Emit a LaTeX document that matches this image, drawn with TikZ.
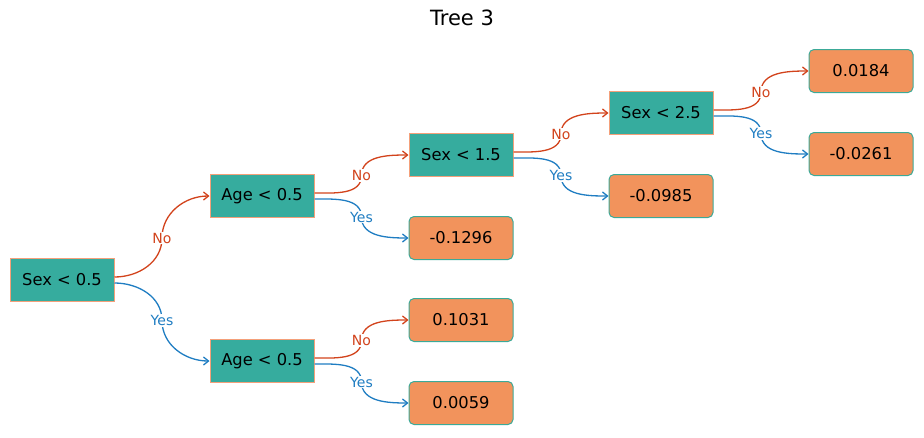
\documentclass[tikz,border=0pt]{standalone}
\usepackage{fontspec}
\setmainfont{DejaVu Sans}
\usetikzlibrary{calc,arrows.meta}
\definecolor{splitfill}{HTML}{36AC9E}
\definecolor{splitline}{HTML}{F4A07A}
\definecolor{leaffill}{HTML}{F2935C}
\definecolor{leafline}{HTML}{3BAA98}
\definecolor{nocol}{HTML}{D2431C}
\definecolor{yescol}{HTML}{1F7DC2}

\begin{document}
\begin{tikzpicture}[x=1pt,y=1pt,
  split/.style={draw=splitline,fill=splitfill,line width=1pt,
    minimum width=104pt,minimum height=43pt,font=\fontsize{16.3}{19}\selectfont},
  leaf/.style={split,draw=leafline,fill=leaffill,rounded corners=5pt},
  no/.style={draw=nocol,line width=1.3pt,-{Straight Barb[length=5pt,width=8pt]}},
  yes/.style={draw=yescol,line width=1.3pt,-{Straight Barb[length=5pt,width=8pt]}},
  lab/.style={fill=white,inner sep=1pt,font=\fontsize{14}{16}\selectfont}]
\useasboundingbox (0,0) rectangle (924,-437);
\node[font=\fontsize{21}{25}\selectfont] (title) at (462,-18) {Tree 3};
\node[split] (s0)  at (62,-280)  {Sex < 0.5};
\node[split] (a1)  at (262,-196) {Age < 0.5};
\node[split] (a2)  at (262,-361) {Age < 0.5};
\node[split] (s1)  at (461,-155) {Sex < 1.5};
\node[leaf]  (l11) at (461,-238) {-0.1296};
\node[leaf]  (l21) at (461,-320) {0.1031};
\node[leaf]  (l22) at (461,-403) {0.0059};
\node[split] (s2)  at (661,-113) {Sex < 2.5};
\node[leaf]  (l12) at (661,-196) {-0.0985};
\node[leaf]  (l31) at (861,-71)  {0.0184};
\node[leaf]  (l32) at (861,-154) {-0.0261};
% no branches
\draw[no] ([yshift=3pt]s0.east) to[out=0,in=-90] ($(s0.east)!.5!(a1.west)$)
  node[lab,text=nocol] {No} to[out=90,in=180] (a1.west);
\draw[no] ([yshift=3pt]a1.east) to[out=0,in=-90] ($(a1.east)!.5!(s1.west)$)
  node[lab,text=nocol] {No} to[out=90,in=180] (s1.west);
\draw[no] ([yshift=3pt]a2.east) to[out=0,in=-90] ($(a2.east)!.5!(l21.west)$)
  node[lab,text=nocol] {No} to[out=90,in=180] (l21.west);
\draw[no] ([yshift=3pt]s1.east) to[out=0,in=-90] ($(s1.east)!.5!(s2.west)$)
  node[lab,text=nocol] {No} to[out=90,in=180] (s2.west);
\draw[no] ([yshift=3pt]s2.east) to[out=0,in=-90] ($(s2.east)!.5!(l31.west)$)
  node[lab,text=nocol] {No} to[out=90,in=180] (l31.west);
% yes branches
\draw[yes] ([yshift=-3pt]s0.east) to[out=0,in=90] ($(s0.east)!.5!(a2.west)$)
  node[lab,text=yescol] {Yes} to[out=-90,in=180] (a2.west);
\draw[yes] ([yshift=-3pt]a1.east) to[out=0,in=90] ($(a1.east)!.5!(l11.west)$)
  node[lab,text=yescol] {Yes} to[out=-90,in=180] (l11.west);
\draw[yes] ([yshift=-3pt]a2.east) to[out=0,in=90] ($(a2.east)!.5!(l22.west)$)
  node[lab,text=yescol] {Yes} to[out=-90,in=180] (l22.west);
\draw[yes] ([yshift=-3pt]s1.east) to[out=0,in=90] ($(s1.east)!.5!(l12.west)$)
  node[lab,text=yescol] {Yes} to[out=-90,in=180] (l12.west);
\draw[yes] ([yshift=-3pt]s2.east) to[out=0,in=90] ($(s2.east)!.5!(l32.west)$)
  node[lab,text=yescol] {Yes} to[out=-90,in=180] (l32.west);
\end{tikzpicture}
\end{document}
